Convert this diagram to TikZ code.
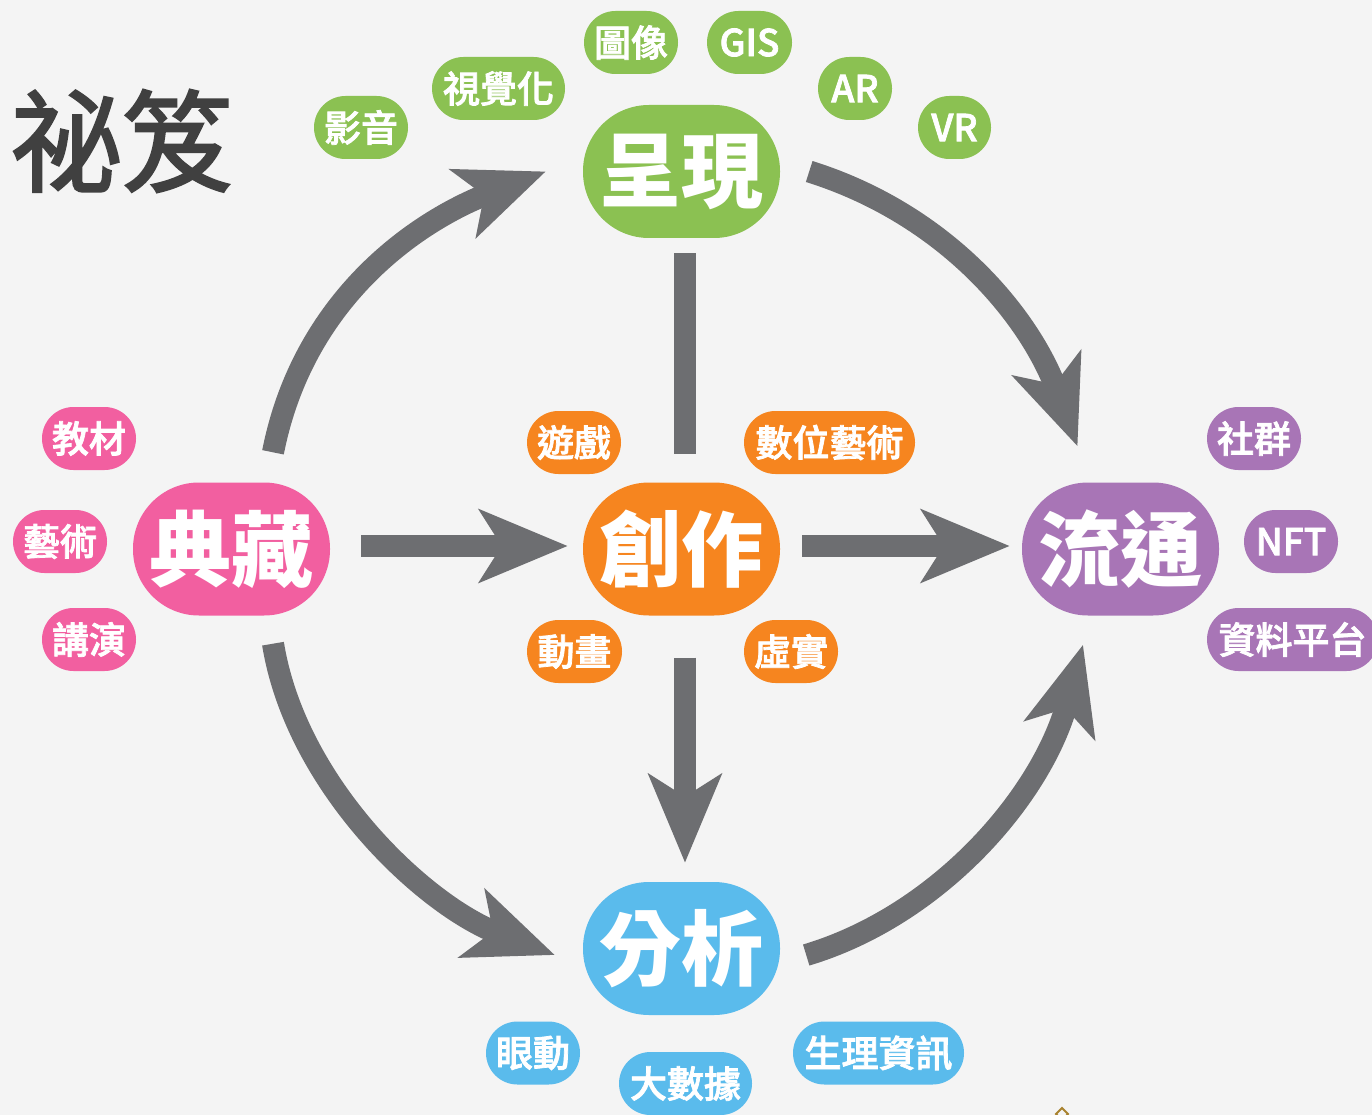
\documentclass[tikz,border=0pt]{standalone}
\usepackage{fontspec}
\usetikzlibrary{arrows.meta,calc}
\setmainfont{Liberation Sans}
\newfontfamily\cjk{Noto Sans CJK TC}
\newfontfamily\cjkmed[FakeBold=2]{Noto Sans CJK TC Medium}
\newfontfamily\cjktitle[FakeBold=2]{Noto Sans CJK TC}
\definecolor{paper}{HTML}{F4F4F4}
\definecolor{flow}{HTML}{6D6E71}
\definecolor{cgreen}{HTML}{8BC152}
\definecolor{corange}{HTML}{F6851F}
\definecolor{cpink}{HTML}{F25FA0}
\definecolor{cpurple}{HTML}{A875B6}
\definecolor{cblue}{HTML}{5ABBEC}
\definecolor{ctitle}{HTML}{404040}
\definecolor{cgold}{HTML}{A8822E}
\tikzset{
  pillbig/.style={rectangle,rounded corners=66pt,minimum width=197pt,minimum height=133pt,inner sep=0pt,fill=#1,text=white,font=\cjk\bfseries\fontsize{82}{82}\selectfont},
  pillsmall/.style={rectangle,rounded corners=31.5pt,minimum height=63pt,inner sep=0pt,fill=#1,text=white,font=\cjkmed\fontsize{37}{37}\selectfont},
  flowline/.style={draw=flow,line width=22pt},
  flowarrow/.style={flowline,-{Stealth[length=88pt,width=72pt,inset=22pt]}},
}
\begin{document}
\begin{tikzpicture}[x=1pt,y=-1pt]
\useasboundingbox (0,0) rectangle (1372,1115);
\clip (0,0) rectangle (1372,1115);
\fill[paper] (0,0) rectangle (1372,1115);
\node (title) at (122,141) [text=ctitle,font=\cjktitle\fontsize{111}{111}\selectfont,inner sep=0pt] {祕笈};
% main nodes
\node[pillbig=cgreen] (cx) at (681.5,171.5) {呈現};
\node[pillbig=corange] (cz) at (681.5,549) {創作};
\node[pillbig=cpink] (dz) at (231.5,549) {典藏};
\node[pillbig=cpurple] (lt) at (1120.5,549) {流通};
\node[pillbig=cblue] (fx) at (681.5,948.5) {分析};
% satellites
\node[pillsmall=cgreen,minimum width=94pt] (s1) at (361,127.5) {影音};
\node[pillsmall=cgreen,minimum width=133pt] (s2) at (498.5,88.5) {視覺化};
\node[pillsmall=cgreen,minimum width=94pt] (s3) at (631,42.5) {圖像};
\node[pillsmall=cgreen,minimum width=85pt] (s4) at (749.5,42.5) {GIS};
\node[pillsmall=cgreen,minimum width=74pt] (s5) at (855,88.5) {AR};
\node[pillsmall=cgreen,minimum width=73pt] (s6) at (954.5,127.5) {VR};
\node[pillsmall=corange,minimum width=94pt] (s7) at (574,442.5) {遊戲};
\node[pillsmall=corange,minimum width=171pt] (s8) at (829.5,442.5) {數位藝術};
\node[pillsmall=corange,minimum width=95pt] (s9) at (574.5,651.5) {動畫};
\node[pillsmall=corange,minimum width=94pt] (s10) at (791,651.5) {虛實};
\node[pillsmall=cpink,minimum width=94pt] (s11) at (89,438.5) {教材};
\node[pillsmall=cpink,minimum width=94pt] (s12) at (60,541.5) {藝術};
\node[pillsmall=cpink,minimum width=94pt] (s13) at (89,639.5) {講演};
\node[pillsmall=cpurple,minimum width=94pt] (s14) at (1254,438.5) {社群};
\node[pillsmall=cpurple,minimum width=94pt] (s15) at (1291,541.5) {NFT};
\node[pillsmall=cpurple,minimum width=171pt] (s16) at (1292.5,639.5) {資料平台};
\node[pillsmall=cblue,minimum width=94pt] (s17) at (533,1053) {眼動};
\node[pillsmall=cblue,minimum width=133pt] (s18) at (685.5,1083.5) {大數據};
\node[pillsmall=cblue,minimum width=171pt] (s19) at (878.5,1053) {生理資訊};
% straight connectors
\draw[flowarrow,shorten <=31pt,shorten >=15pt] ([yshift=3pt]dz.east) -- ([yshift=3pt]cz.west);
\draw[flowarrow,shorten <=22pt,shorten >=12pt] ([yshift=3pt]cz.east) -- ([yshift=3pt]lt.west);
\draw[flowline,shorten <=15pt,shorten >=28pt] ([xshift=3.5pt]cx.south) -- ([xshift=3.5pt]cz.north);
\draw[flowarrow,shorten <=42pt,shorten >=19pt] ([xshift=3.5pt]cz.south) -- ([xshift=3.5pt]fx.north);
% curved connectors
\draw[flowarrow] ([shift={(41.5,-30)}]dz.north) .. controls (303,300) and (415,222) .. ([xshift=-37pt]cx.west);
\draw[flowarrow] ([xshift=29pt]cx.east) .. controls (948,215) and (1030,318) .. ([shift={(-43,-36)}]lt.north);
\draw[flowarrow] ([shift={(41.5,28)}]dz.south) .. controls (296,785) and (424,905) .. ([shift={(-28,6.5)}]fx.west);
\draw[flowarrow] ([shift={(26,6.5)}]fx.east) .. controls (940,915) and (1042,795) .. ([shift={(-37.5,29)}]lt.south);
% small mark at the lower edge
\draw[cgold,line width=2pt] (1062,1108) -- (1068,1114) -- (1062,1120) -- (1056,1114) -- cycle;
\end{tikzpicture}
\end{document}
